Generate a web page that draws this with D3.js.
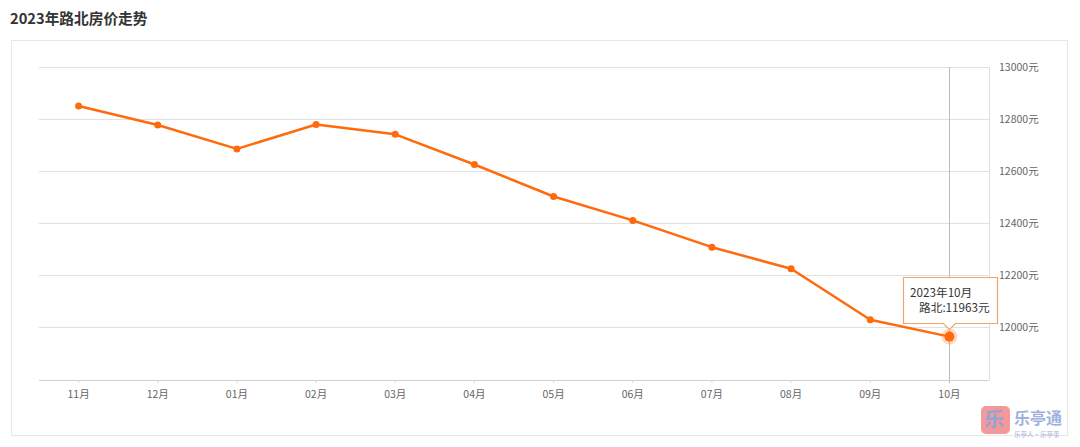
<!DOCTYPE html>
<html>
<head>
<meta charset="utf-8">
<script src="https://cdn.jsdelivr.net/npm/d3@7"></script>
<style>
    html, body { margin: 0; padding: 0; background: #fff; }
    body { width: 1080px; height: 447px; overflow: hidden; }
    text { font-family: "Noto Sans CJK SC", "Noto Sans", sans-serif; }
</style>
</head>
<body>
<div id="chart"></div>
<script>
// 月份
var months = ["11月", "12月", "01月", "02月", "03月", "04月", "05月", "06月", "07月", "08月", "09月", "10月"];
// 路北均价（元/平米）
var prices = [12850, 12777, 12685, 12779, 12741, 12625, 12502, 12410, 12307, 12224, 12028, 11963];
// y 轴刻度
var yTicks = [12000, 12200, 12400, 12600, 12800, 13000];
var seriesName = "路北";
var tipTitle = "2023年10月";

var W = 1080, H = 447;
var area = { l: 39, r: 989, t: 67, b: 379 };
var lineColor = "#ff6a0c";

var svg = d3.select("#chart").append("svg")
    .attr("width", W).attr("height", H);

// 标题
svg.append("text")
    .attr("x", 10).attr("y", 24)
    .style("font-size", "14.7px")
    .style("font-weight", "bold")
    .attr("fill", "#333")
    .text("2023年路北房价走势");

// 外框
svg.append("rect")
    .attr("x", 11.5).attr("y", 40.5)
    .attr("width", 1056).attr("height", 395)
    .attr("fill", "none")
    .attr("stroke", "#e8e8e8");

var xScale = d3.scaleBand().domain(months).range([area.l, area.r]);
var yScale = d3.scaleLinear().domain([11800, 13000]).range([area.b, area.t]);
var cx = function(d) { return xScale(d) + xScale.bandwidth() / 2; };

// 网格线
svg.append("g").selectAll("line")
    .data(yTicks)
    .enter()
    .append("line")
    .attr("x1", area.l).attr("x2", area.r)
    .attr("y1", d => Math.round(yScale(d)) + 0.5)
    .attr("y2", d => Math.round(yScale(d)) + 0.5)
    .attr("stroke", "#e0e0e0");

// 右侧边线
svg.append("line")
    .attr("x1", area.r + 0.5).attr("x2", area.r + 0.5)
    .attr("y1", area.t).attr("y2", area.b + 1)
    .attr("stroke", "#dedede");

// y 轴
var yAxis = d3.axisRight(yScale).tickValues(yTicks).tickSize(0).tickPadding(0)
    .tickFormat(d => d + "元");
var yg = svg.append("g")
    .attr("transform", "translate(" + (area.r + 10) + ",0)")
    .call(yAxis);
yg.select(".domain").remove();
yg.selectAll("text")
    .attr("fill", "#666")
    .style("font-size", "10.5px");

// x 轴
var xAxis = d3.axisBottom(xScale).tickSize(3).tickPadding(8);
var xg = svg.append("g")
    .attr("transform", "translate(0," + (area.b + 1) + ")")
    .call(xAxis);
xg.select(".domain").attr("stroke", "#d0d0d0").attr("d", "M" + area.l + ",0.5H" + area.r);
xg.selectAll(".tick line").attr("stroke", "#d8d8d8");
xg.selectAll("text")
    .attr("fill", "#666")
    .style("font-size", "10.5px");

// 十字准线
var last = months.length - 1;
svg.append("line")
    .attr("x1", Math.round(cx(months[last])) + 0.5)
    .attr("x2", Math.round(cx(months[last])) + 0.5)
    .attr("y1", area.t).attr("y2", area.b + 4)
    .attr("stroke", "#bbb");

// 折线
var line = d3.line()
    .x((d, i) => cx(months[i]))
    .y(d => yScale(d));
svg.append("path")
    .datum(prices)
    .attr("d", line)
    .attr("fill", "none")
    .attr("stroke", lineColor)
    .attr("stroke-width", 2.5)
    .attr("stroke-linejoin", "round");

svg.append("g").selectAll("circle")
    .data(prices)
    .enter()
    .append("circle")
    .attr("cx", (d, i) => cx(months[i]))
    .attr("cy", d => yScale(d))
    .attr("r", (d, i) => i === last ? 0 : 3.5)
    .attr("fill", lineColor);

// 高亮点
var hx = cx(months[last]), hy = yScale(prices[last]);
svg.append("circle")
    .attr("cx", hx).attr("cy", hy).attr("r", 8)
    .attr("fill", lineColor).attr("fill-opacity", 0.25);
svg.append("circle")
    .attr("cx", hx).attr("cy", hy).attr("r", 5)
    .attr("fill", lineColor);

// 提示框
var tip = { x: 903.5, y: 277.5, w: 94, h: 46, arrow: 6 };
var tipPath = d3.path();
tipPath.moveTo(tip.x, tip.y);
tipPath.lineTo(tip.x + tip.w, tip.y);
tipPath.lineTo(tip.x + tip.w, tip.y + tip.h);
tipPath.lineTo(hx + tip.arrow, tip.y + tip.h);
tipPath.lineTo(hx, tip.y + tip.h + tip.arrow);
tipPath.lineTo(hx - tip.arrow, tip.y + tip.h);
tipPath.lineTo(tip.x, tip.y + tip.h);
tipPath.closePath();
svg.append("path")
    .attr("d", tipPath.toString())
    .attr("fill", "#fff")
    .attr("fill-opacity", 0.95)
    .attr("stroke", "#f2a46e")
    .attr("stroke-width", 1.2);
svg.append("text")
    .attr("x", tip.x + 6.5).attr("y", tip.y + 19)
    .attr("fill", "#333")
    .style("font-size", "11.7px")
    .text(tipTitle);
svg.append("text")
    .attr("x", tip.x + 15.5).attr("y", tip.y + 34)
    .attr("fill", "#333")
    .style("font-size", "11.7px")
    .text(seriesName + ":" + prices[last] + "元");

// 水印
var wm = svg.append("g").attr("transform", "translate(981,406)");
wm.append("rect")
    .attr("width", 29).attr("height", 28).attr("rx", 5)
    .attr("fill", "#f07f7f").attr("fill-opacity", 0.8);
wm.append("text")
    .attr("x", 13).attr("y", 21)
    .attr("text-anchor", "middle")
    .attr("fill", "#8fa6d6")
    .style("font-size", "20px")
    .style("font-weight", "bold")
    .text("乐");
wm.append("text")
    .attr("x", 33).attr("y", 18)
    .attr("fill", "#9eb2dc")
    .style("font-size", "16px")
    .style("font-weight", "bold")
    .text("乐亭通");
wm.append("text")
    .attr("x", 33).attr("y", 31)
    .attr("fill", "#9eb2dc")
    .style("font-size", "6.5px")
    .text("乐亭人·乐亭事");
</script>
</body>
</html>
